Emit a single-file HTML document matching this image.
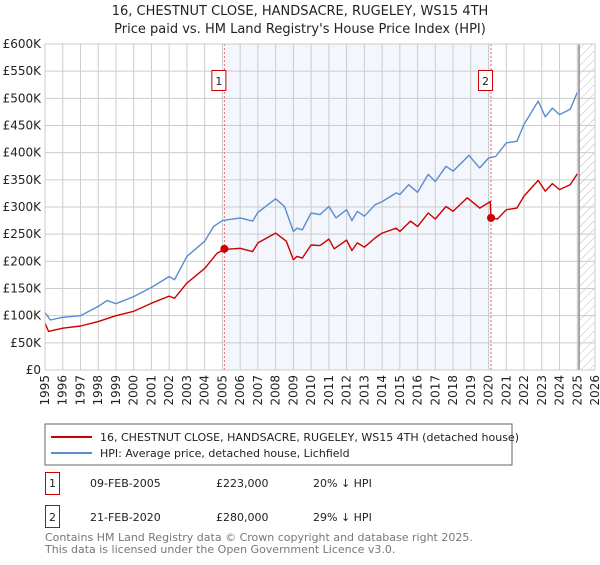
<!DOCTYPE html>
<html><head><meta charset="utf-8"><style>
body{margin:0;background:#fff;font-family:"Liberation Sans","DejaVu Sans",sans-serif;}
svg text{font-family:"DejaVu Sans","Liberation Sans",sans-serif;}
</style></head><body>
<svg id="c" width="600" height="560" xmlns="http://www.w3.org/2000/svg">
<defs><pattern id="hatch" width="6" height="6" patternUnits="userSpaceOnUse" patternTransform="rotate(45)"><line x1="0" y1="0" x2="0" y2="6" stroke="#bbb" stroke-width="1"/></pattern></defs>
<text x="300" y="15" text-anchor="middle" font-size="13" fill="#222">16, CHESTNUT CLOSE, HANDSACRE, RUGELEY, WS15 4TH</text>
<text x="300" y="33" text-anchor="middle" font-size="13" fill="#222">Price paid vs. HM Land Registry's House Price Index (HPI)</text>
<g id="plot"></g>
<g>
<rect x="45" y="424" width="467" height="41" fill="#fff" stroke="#666"/>
<line x1="51" y1="437" x2="92" y2="437" stroke="#cc0000" stroke-width="2"/>
<text x="100" y="441" font-size="11" fill="#222">16, CHESTNUT CLOSE, HANDSACRE, RUGELEY, WS15 4TH (detached house)</text>
<line x1="51" y1="453" x2="92" y2="453" stroke="#5b8bd0" stroke-width="2"/>
<text x="100" y="457" font-size="11" fill="#222">HPI: Average price, detached house, Lichfield</text>
</g>
<g>
<rect x="45.5" y="472.5" width="14" height="22" fill="#fff" stroke="#cc0000"/>
<text x="52.5" y="487" text-anchor="middle" font-size="11" fill="#222">1</text>
<text x="90" y="487" font-size="11" fill="#222">09-FEB-2005</text>
<text x="216" y="487" font-size="11" fill="#222">£223,000</text>
<text x="313" y="487" font-size="11" fill="#222">20% ↓ HPI</text>
<rect x="45.5" y="505.5" width="14" height="22" fill="#fff" stroke="#cc0000"/>
<text x="52.5" y="521" text-anchor="middle" font-size="11" fill="#222">2</text>
<text x="90" y="521" font-size="11" fill="#222">21-FEB-2020</text>
<text x="216" y="521" font-size="11" fill="#222">£280,000</text>
<text x="313" y="521" font-size="11" fill="#222">29% ↓ HPI</text>
</g>
<text x="45" y="541" font-size="11" fill="#777">Contains HM Land Registry data © Crown copyright and database right 2025.</text>
<text x="45" y="553" font-size="11" fill="#777">This data is licensed under the Open Government Licence v3.0.</text>
</svg>
<script>
const yTicks=[0,50,100,150,200,250,300,350,400,450,500,550,600];
const yLabels=["£0","£50K","£100K","£150K","£200K","£250K","£300K","£350K","£400K","£450K","£500K","£550K","£600K"];
const years=[1995,1996,1997,1998,1999,2000,2001,2002,2003,2004,2005,2006,2007,2008,2009,2010,2011,2012,2013,2014,2015,2016,2017,2018,2019,2020,2021,2022,2023,2024,2025,2026];
const hpiT=[1995,1995.3,1996,1997,1998,1998.5,1999,2000,2001,2002,2002.3,2003,2004,2004.5,2005,2006,2006.7,2007,2008,2008.5,2009,2009.2,2009.5,2010,2010.5,2011,2011.4,2012,2012.3,2012.6,2013,2013.6,2014,2014.8,2015,2015.5,2016,2016.6,2017,2017.6,2018,2018.9,2019.5,2020,2020.4,2021,2021.6,2022,2022.8,2023.2,2023.6,2024,2024.6,2025];
const hpiV=[106,92,97,100,117,128,122,135,152,172,166,209,237,264,275,280,274,290,315,301,255,261,258,289,286,301,280,295,275,292,283,304,310,326,323,341,327,360,347,375,366,395,372,390,393,418,421,452,495,466,482,470,480,511];
const propT=[1995,1995.2,1996,1997,1998,1999,2000,2001,2002,2002.3,2003,2004,2004.7,2005.1,2006,2006.7,2007,2008,2008.6,2009,2009.2,2009.5,2010,2010.5,2011,2011.3,2012,2012.3,2012.6,2013,2013.6,2014,2014.8,2015,2015.6,2016,2016.6,2017,2017.6,2018,2018.8,2019.5,2020.1,2020.13,2020.5,2021,2021.6,2022,2022.8,2023.2,2023.6,2024,2024.6,2025];
const propV=[86,71,77,81,89,100,108,123,136,132,160,187,215,222,224,218,234,252,237,203,209,206,230,229,241,223,239,220,234,226,243,252,261,255,274,264,289,278,301,292,317,298,310,280,278,295,298,320,349,329,343,332,341,361];
const saleT=[2005.11,2020.14];
const saleV=[223,280];
const saleLabels=["1","2"];
const X0=45,X1=595,Y0=370,Y1=44;
const xs=t=>X0+(t-1995)/(2026-1995)*(X1-X0);
const ys=v=>Y0-v/600*(Y0-Y1);
const NS="http://www.w3.org/2000/svg";
const g=document.getElementById('plot');
function mk(tag,at){const e=document.createElementNS(NS,tag);for(const k in at)e.setAttribute(k,at[k]);g.appendChild(e);return e;}
let r=mk('rect',{x:xs(saleT[0]),y:Y1,width:xs(saleT[1])-xs(saleT[0]),height:Y0-Y1,fill:'#f3f6fd'});


let h=mk('rect',{x:xs(2025.1),y:Y1,width:X1-xs(2025.1),height:Y0-Y1,fill:'url(#hatch)'});


yTicks.forEach((v,i)=>{
 let l=mk('line',{x1:X0,x2:X1,y1:ys(v),y2:ys(v),stroke:'#ccc','stroke-width':1});
 
 
 let t=mk('text',{x:X0-4,y:ys(v)+4,'text-anchor':'end','font-size':12,fill:'#222'});
 t.textContent=yLabels[i];
 
 
});
years.forEach(y=>{
 let l=mk('line',{x1:xs(y),x2:xs(y),y1:Y1,y2:Y0,stroke:'#ccc','stroke-width':1});
 
 
 let t=mk('text',{x:0,y:0,'font-size':12,fill:'#222','text-anchor':'end',transform:`translate(${xs(y)+4},375) rotate(-90)`});
 t.textContent=y;
 
 
});
let dl=mk('line',{x1:xs(2025.1),x2:xs(2025.1),y1:Y1,y2:Y0,stroke:'#888','stroke-width':1.5});


saleT.forEach((t,i)=>{
 let l=mk('line',{x1:xs(t),x2:xs(t),y1:Y1,y2:Y0,stroke:'#e66','stroke-width':1,'stroke-dasharray':'2,2'});
 
 
});
function path(T,V,c,name){
 let d=T.map((t,i)=>(i?'L':'M')+xs(t).toFixed(1)+','+ys(V[i]).toFixed(1)).join('');
 let p=mk('path',{d:d,fill:'none',stroke:c,'stroke-width':1.4,'stroke-linejoin':'round'});
 
 
}
path(hpiT,hpiV,'#5b8bd0','hpi-line');
path(propT,propV,'#cc0000','property-line');
saleT.forEach((t,i)=>{
 let c=mk('circle',{cx:xs(t),cy:ys(saleV[i]),r:4,fill:'#cc0000'});
 
 
 let b=mk('rect',{x:xs(t)-12.5,y:70.5,width:14,height:20,fill:'#fff',stroke:'#cc0000'});
 
 
 let tx=mk('text',{x:xs(t)-5.5,y:85,'text-anchor':'middle','font-size':11,fill:'#222'});
 tx.textContent=saleLabels[i];
 
 
});
let ax=mk('rect',{x:X0,y:Y1,width:X1-X0,height:Y0-Y1,fill:'none',stroke:'#ccc'});


</script>
</body></html>
